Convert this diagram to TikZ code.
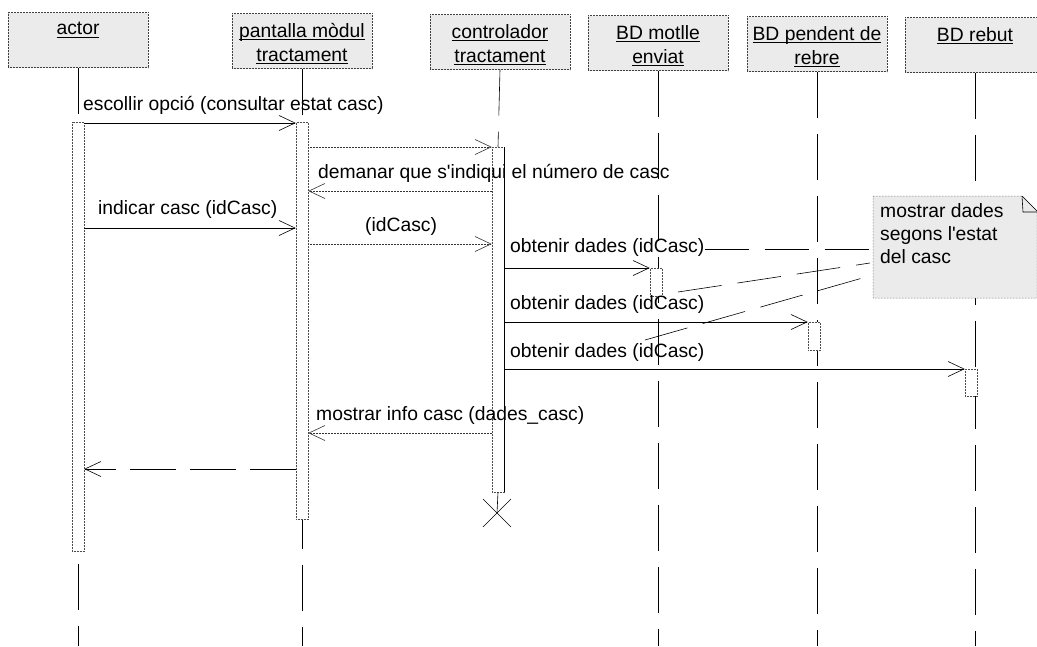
\documentclass[tikz,border=0pt]{standalone}
\usepackage{fontspec}
\setmainfont{Liberation Sans}[Ligatures=TeXOff]
\usetikzlibrary{arrows.meta}
\newcommand\myul[1]{\setbox0\hbox{#1}\rlap{\rule[-2.6pt]{\wd0}{0.9pt}}\box0}
\begin{document}
\begin{tikzpicture}[x=1pt,y=-1pt,
  hdr/.style={draw=black!75, densely dotted, line width=0.5pt, fill=black!8, minimum width=140pt, minimum height=55pt, inner sep=0pt},
  hdrtext/.style={font=\fontsize{19.3}{24}\selectfont, align=center, anchor=north, inner sep=0pt},
  lbl/.style={font=\fontsize{19.3}{23}\selectfont, anchor=base west, inner sep=0pt},
  life/.style={line width=0.6pt, dash pattern=on 46pt off 16pt},
  act/.style={draw=black!70, densely dotted, line width=0.5pt, fill=white, minimum width=12pt, inner sep=0pt},
  tip/.style={-{Straight Barb[length=16pt,width=15pt,line width=0.6pt]}},
  call/.style={tip, line width=0.6pt},
  ret/.style={tip, line width=0.5pt, densely dotted, black!80},
  back/.style={tip, line width=0.6pt, dash pattern=on 46pt off 14pt},
  anchorln/.style={line width=0.6pt, dash pattern=on 44pt off 16pt},
]
\useasboundingbox (0,0) rectangle (1037,646);

% headers
\node[hdr] (hA) at (78,40) {};
\node[hdr] (hP) at (302,41) {};
\node[hdr] (hC) at (500,42) {};
\node[hdr] (hM) at (658,43) {};
\node[hdr] (hB) at (817,44) {};
\node[hdr] (hR) at (975,45) {};
\node[hdrtext] (tA) at ([yshift=-10pt]hA.north) {\myul{actor}};
\node[hdrtext] (tP) at ([yshift=-10pt]hP.north) {\myul{pantalla mòdul}\\\myul{tractament}};
\node[hdrtext] (tC) at ([yshift=-10pt]hC.north) {\myul{controlador}\\\myul{tractament}};
\node[hdrtext] (tM) at ([yshift=-10pt]hM.north) {\myul{BD motlle}\\\myul{enviat}};
\node[hdrtext] (tB) at ([yshift=-10pt]hB.north) {\myul{BD pendent de}\\\myul{rebre}};
\node[hdrtext] (tR) at ([yshift=-10pt]hR.north) {\myul{BD rebut}};

% lifelines
\coordinate (eA) at (78,646);
\coordinate (eP) at (302,646);
\coordinate (eM) at (658,646);
\coordinate (eB) at (817,646);
\coordinate (eR) at (975,646);
\coordinate (xC) at (497,513);
\draw[life] (hA.south) -- (eA);
\draw[life] (hP.south) -- (eP);
\draw[life] (hM.south) -- (eM);
\draw[life] (hB.south) -- (eB);
\draw[life] (hR.south) -- (eR);

% activations
\node[act, minimum height=429pt] (aA) at (78,336.5) {};
\node[act, minimum height=397pt] (aP) at (302,320.5) {};
\node[act, minimum height=345pt] (aC) at (498,319.5) {};
\node[act, minimum height=28pt] (aM) at (656,282) {};
\node[act, minimum height=28pt] (aB) at (814,336) {};
\node[act, minimum height=27pt] (aR) at (971,382.5) {};
\draw[line width=0.6pt] (aC.north east) -- (aC.south east);
\draw[life] (hC.south) -- (aC.north);
\draw[line width=0.6pt] (aC.south) -- (xC);
\draw[line width=0.6pt] (xC) ++(-14,-14) -- ++(28,28);
\draw[line width=0.6pt] (xC) ++(-14,14) -- ++(28,-28);

% message rows
\coordinate (y1) at (0,123);
\coordinate (y2) at (0,147);
\coordinate (y3) at (0,191);
\coordinate (y4) at (0,228);
\coordinate (y5) at (0,244);
\coordinate (y6) at (0,268);
\coordinate (y7) at (0,322);
\coordinate (y8) at (0,369);
\coordinate (y9) at (0,433);
\coordinate (y10) at (0,469);

\draw[call] (aA.east |- y1) -- (aP.west |- y1);
\draw[ret] (aP.east |- y2) -- (aC.west |- y2);
\draw[ret] (aC.west |- y3) -- (aP.east |- y3);
\draw[call] (aA.east |- y4) -- (aP.west |- y4);
\draw[ret] (aP.east |- y5) -- (aC.west |- y5);
\draw[call] (aC.east |- y6) -- (aM.west |- y6);
\draw[call] (aC.east |- y7) -- (aB.west |- y7);
\draw[call] (aC.east |- y8) -- (aR.west |- y8);
\draw[ret] (aC.west |- y9) -- (aP.east |- y9);
\draw[back] (aP.west |- y10) -- (aA.east |- y10);

% labels
\node[lbl] (l1) at (83,110) {escollir opció (consultar estat casc)};
\node[lbl] (l3) at (318,178) {demanar que s'indiqui el número de casc};
\node[lbl] (l4) at (98,214) {indicar casc (idCasc)};
\node[lbl] (l5) at (365,231) {(idCasc)};
\node[lbl] (l6) at (510,252) {obtenir dades (idCasc)};
\node[lbl] (l7) at (510,309) {obtenir dades (idCasc)};
\node[lbl] (l8) at (510,357) {obtenir dades (idCasc)};
\node[lbl] (l9) at (316,420) {mostrar info casc (dades\_casc)};

% note
\draw[draw=black!75, densely dotted, line width=0.5pt, fill=black!8]
  (873,196) -- (1022,196) -- (1037,211) -- (1037,298) -- (873,298) -- cycle;
\draw[line width=0.6pt] (1022,196) -- (1023,212) -- (1037,212);
\draw[line width=0.6pt] (1022,196) -- (1037,211);
\node[font=\fontsize{19.3}{23}\selectfont, align=left, anchor=north west, inner sep=0pt] (note) at (880,203) {mostrar dades\\segons l'estat\\del casc};
\coordinate (n1) at (873,249);
\coordinate (n2) at (870,263);
\coordinate (n3) at (866,277);
\coordinate (k2) at (678,292);
\coordinate (k3) at (645,340);
\draw[anchorln] (l6.east |- n1) -- (n1);
\draw[anchorln] (k2) -- (n2);
\draw[anchorln] (k3) -- (n3);
\end{tikzpicture}
\end{document}
